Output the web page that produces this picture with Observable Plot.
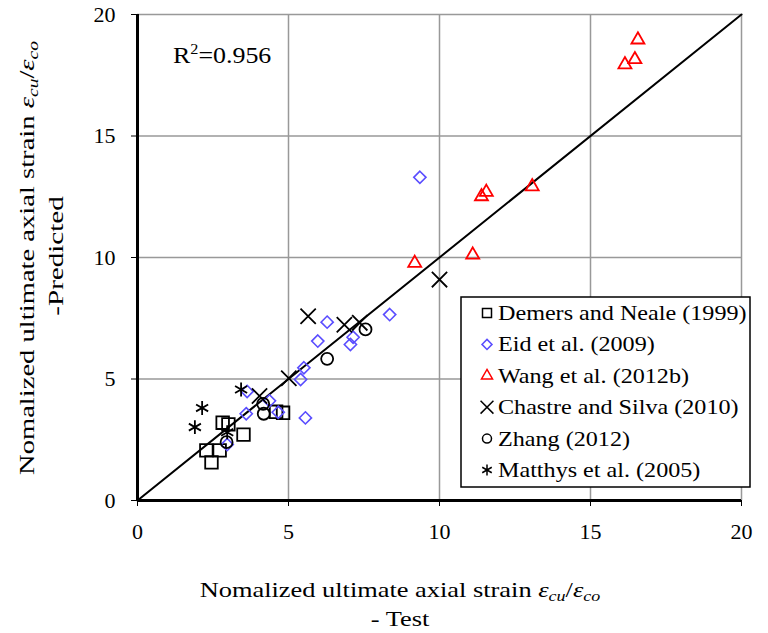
<!DOCTYPE html>
<html><head><meta charset="utf-8">
<script src="https://cdn.jsdelivr.net/npm/d3@7"></script>
<script src="https://cdn.jsdelivr.net/npm/@observablehq/plot@0.6"></script>
<style>body{margin:0;background:#fff;} svg text{font-family:"Liberation Serif","DejaVu Serif",serif;}</style>
</head><body><div id="chart"></div>
<script>
// ---- data (x = test, y = predicted) ----
const seriesNames = ["Demers and Neale (1999)", "Eid et al. (2009)", "Wang et al. (2012b)", "Chastre and Silva (2010)", "Zhang (2012)", "Matthys et al. (2005)"];
const demers = [[2.82,3.20],[3.01,3.13],[3.51,2.71],[2.28,2.06],[2.72,2.06],[2.45,1.57],[4.59,3.65],[4.82,3.61]];
const eid = [[9.35,13.30],[8.35,7.65],[6.28,7.34],[5.97,6.56],[7.14,6.72],[7.05,6.42],[5.51,5.46],[5.40,4.98],[5.56,3.40],[4.37,4.10],[3.63,4.49],[3.60,3.57],[4.66,3.63],[2.97,2.30]];
const wang = [[16.57,18.96],[16.47,18.15],[16.14,17.94],[11.55,12.69],[11.39,12.51],[13.07,12.92],[11.10,10.11],[9.18,9.77]];
const chastre = [[5.65,7.58],[6.85,7.23],[7.36,7.31],[5.01,5.03],[10.00,9.09],[4.04,4.30]];
const zhang = [[7.55,7.04],[6.28,5.83],[4.18,3.57],[4.16,3.98],[2.95,2.40]];
const matthys = [[3.43,4.57],[2.14,3.81],[1.90,3.02],[2.97,2.81]];
const tickValues = [0, 5, 10, 15, 20];
const identityLine = [0, 20];
const r2Label = "0.956";

const serif = "Liberation Serif, DejaVu Serif, serif";
const X = d => d[0], Y = d => d[1];

const plot = Plot.plot({
  width: 768, height: 633,
  marginLeft: 137, marginRight: 27, marginTop: 14, marginBottom: 133,
  style: {fontFamily: serif, fontSize: "22px", background: "#fff", color: "#000"},
  x: {domain: [0, 20], ticks: tickValues, tickSize: 6, tickPadding: 17, label: null},
  y: {domain: [0, 20], ticks: tickValues, tickSize: 6, tickPadding: 16, label: null},
  marks: [
    Plot.ruleX(tickValues.slice(1), {stroke: "#999", strokeWidth: 1.5}),
    Plot.ruleY(tickValues.slice(1), {stroke: "#999", strokeWidth: 1.5}),
    Plot.ruleX([0], {stroke: "#000", strokeWidth: 3}),
    Plot.ruleY([0], {stroke: "#000", strokeWidth: 3}),
    Plot.line(identityLine, {x: d => d, y: d => d, stroke: "#000", strokeWidth: 2}),
    Plot.dot(demers, {x: X, y: Y, symbol: "square2", r: 8, stroke: "#000", fill: "none", strokeWidth: 1.8}),
    Plot.dot(eid, {x: X, y: Y, symbol: "diamond2", r: 5.5, stroke: "#5a4dff", fill: "none", strokeWidth: 1.6}),
    Plot.dot(wang, {x: X, y: Y, symbol: "triangle2", r: 6.2, stroke: "#ff0000", fill: "none", strokeWidth: 1.8}),
    Plot.dot(chastre, {x: X, y: Y, symbol: "times", r: 7, stroke: "#000", fill: "none", strokeWidth: 1.8}),
    Plot.dot(zhang, {x: X, y: Y, symbol: "circle", r: 6, stroke: "#000", fill: "none", strokeWidth: 1.8}),
    Plot.dot(matthys, {x: X, y: Y, symbol: "asterisk", r: 6.6, stroke: "#000", fill: "none", strokeWidth: 1.8})
  ]
});
document.getElementById("chart").appendChild(plot);

const svg = d3.select(plot);
function addText(transform, size, anchor) {
  return svg.append("text").attr("transform", transform).attr("text-anchor", anchor)
    .attr("font-family", serif).attr("font-size", size).attr("fill", "#000");
}
// R^2 annotation
const r2 = addText("translate(173,63) scale(1.08,1)", 24, "start");
r2.append("tspan").text("R");
r2.append("tspan").attr("font-size", 15).attr("dy", -9).text("2");
r2.append("tspan").attr("dy", 9).text("=" + r2Label);

function strainLabel(t, prefix) {
  t.append("tspan").text(prefix);
  t.append("tspan").attr("font-style", "italic").text("ε");
  t.append("tspan").attr("font-style", "italic").attr("font-size", 15).attr("dy", 4).text("cu");
  t.append("tspan").attr("dy", -4).text("/");
  t.append("tspan").attr("font-style", "italic").text("ε");
  t.append("tspan").attr("font-style", "italic").attr("font-size", 15).attr("dy", 4).text("co");
}
// x label
strainLabel(addText("translate(400,597) scale(1.2,1)", 22, "middle"), "Nomalized ultimate axial strain ");
addText("translate(400,626) scale(1.2,1)", 22, "middle").text("- Test");
// y label
strainLabel(addText("translate(34,258) rotate(-90) scale(1.3,1)", 22, "middle"), "Nomalized ultimate axial strain ");
addText("translate(63,256) rotate(-90) scale(1.32,1)", 22, "middle").text("-Predicted");

// legend
const legendItems = [
  {type: d3.symbolSquare2, size: 103, color: "#000"},
  {type: d3.symbolDiamond2, size: 64, color: "#5a4dff"},
  {type: d3.symbolTriangle2, size: 87, color: "#ff0000"},
  {type: d3.symbolTimes, size: 110, color: "#000"},
  {type: d3.symbolCircle, size: 64, color: "#000"},
  {type: d3.symbolAsterisk, size: 85, color: "#000"}
];
const lg = svg.append("g");
lg.append("rect").attr("x", 461).attr("y", 297).attr("width", 289).attr("height", 190).attr("fill", "#fff").attr("stroke", "#000").attr("stroke-width", 1.5);
seriesNames.forEach((name, i) => {
  const cy = 313 + i * 31.4;
  lg.append("path").attr("d", d3.symbol(legendItems[i].type, legendItems[i].size)()).attr("transform", `translate(487,${cy})`)
    .attr("fill", "none").attr("stroke", legendItems[i].color).attr("stroke-width", 1.5);
  lg.append("text").attr("transform", `translate(498,${cy + 7}) scale(1.15,1)`).attr("text-anchor", "start")
    .attr("font-family", serif).attr("font-size", 21).attr("fill", "#000").text(name);
});
</script>
</body></html>
